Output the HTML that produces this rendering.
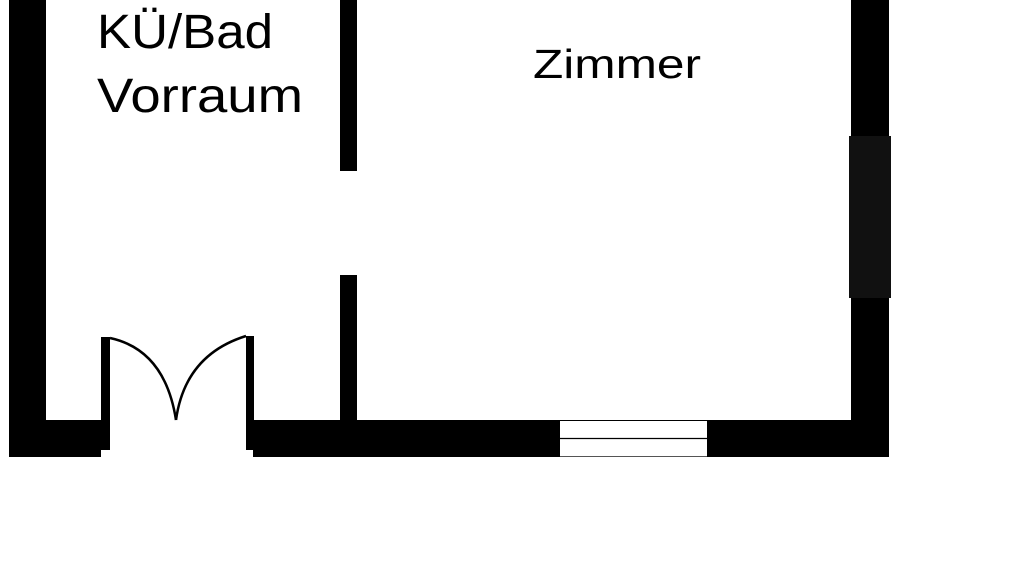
<!DOCTYPE html>
<html><head><meta charset="utf-8"><style>html,body{margin:0;padding:0;background:#fff;width:1024px;height:576px;overflow:hidden}</style></head>
<body>
<svg width="1024" height="576" xmlns="http://www.w3.org/2000/svg">
<rect width="1024" height="576" fill="#fff"/>
<rect x="9" y="0" width="37" height="457" fill="#000"/>
<rect x="9" y="420" width="92" height="37" fill="#000"/>
<rect x="101" y="337" width="9" height="113" fill="#000"/>
<rect x="246" y="336" width="8" height="114" fill="#000"/>
<path d="M110,338 Q165,350 176,420" fill="none" stroke="#000" stroke-width="2.5"/>
<path d="M246,336 Q185,355 176,420" fill="none" stroke="#000" stroke-width="2.5"/>
<rect x="253" y="420" width="307" height="37" fill="#000"/>
<rect x="707" y="420" width="182" height="37" fill="#000"/>
<line x1="560" y1="420.5" x2="707" y2="420.5" stroke="#000" stroke-width="1"/>
<line x1="560" y1="438.5" x2="707" y2="438.5" stroke="#000" stroke-width="1.2"/>
<line x1="560" y1="456.5" x2="707" y2="456.5" stroke="#555" stroke-width="1"/>
<rect x="340" y="0" width="17" height="171" fill="#000"/>
<rect x="340" y="275" width="17" height="150" fill="#000"/>
<rect x="851" y="0" width="38" height="457" fill="#000"/>
<rect x="849" y="136" width="42" height="162" fill="#111"/>
<text x="97" y="48" font-family="Liberation Sans, sans-serif" font-size="48" textLength="176" lengthAdjust="spacingAndGlyphs" fill="#000">KÜ/Bad</text>
<text x="97" y="112" font-family="Liberation Sans, sans-serif" font-size="48" textLength="206" lengthAdjust="spacingAndGlyphs" fill="#000">Vorraum</text>
<text x="533" y="78" font-family="Liberation Sans, sans-serif" font-size="41" textLength="168" lengthAdjust="spacingAndGlyphs" fill="#000">Zimmer</text>
</svg>
</body></html>
